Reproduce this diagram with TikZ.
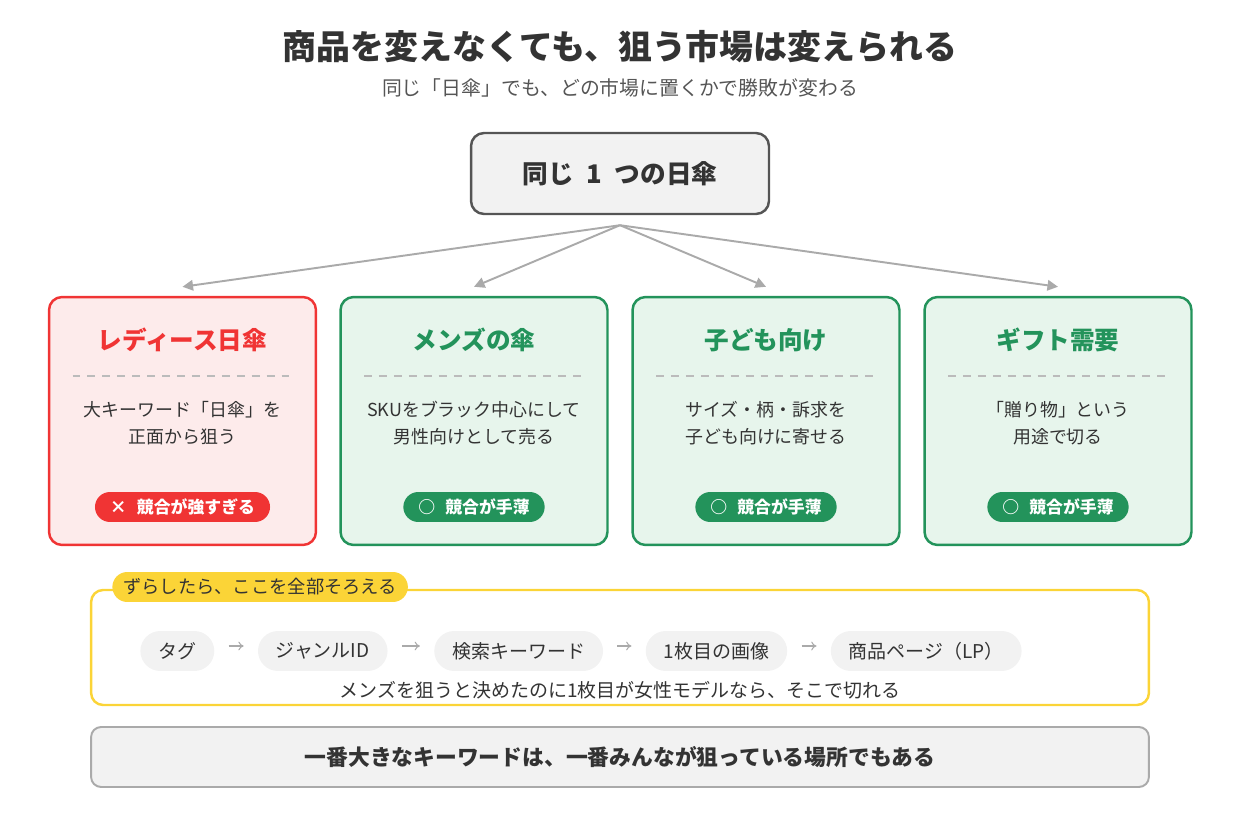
\documentclass[tikz,border=0pt]{standalone}
\usepackage{fontspec}
\setmainfont{Noto Sans CJK JP}
\usetikzlibrary{arrows.meta, calc, positioning}
\usepackage{xcolor}

\definecolor{ink}{HTML}{333333}
\definecolor{softink}{HTML}{555555}
\definecolor{redline}{HTML}{F03434}
\definecolor{redfill}{HTML}{FDEBEB}
\definecolor{greenline}{HTML}{23935B}
\definecolor{greenfill}{HTML}{E7F5EC}
\definecolor{paleGray}{HTML}{F2F2F2}
\definecolor{midGray}{HTML}{AAAAAA}
\definecolor{gold}{HTML}{FBD437}

\tikzset{
  title/.style={text=ink, font=\bfseries\fontsize{19.3}{23}\selectfont},
  subtitle/.style={text=softink, font=\fontsize{11.3}{14}\selectfont},
  source/.style={draw=softink, fill=paleGray, line width=1.4pt, rounded corners=0.26cm,
    minimum width=5.96cm, minimum height=1.62cm, text=ink, font=\bfseries\fontsize{14.6}{17}\selectfont},
  fan/.style={draw=midGray, line width=1.1pt, -{Triangle[length=6pt,width=6pt]}},
  card/.style={draw=#1line, fill=#1fill, line width=1.4pt, rounded corners=0.26cm,
    minimum width=5.34cm, minimum height=4.96cm},
  cardtitle/.style={text=#1line, font=\bfseries\fontsize{14}{17}\selectfont},
  divider/.style={draw=midGray!80, line width=0.9pt, dash pattern=on 4.5pt off 4pt},
  cardbody/.style={text=ink, align=center, font=\fontsize{10.2}{15.3}\selectfont},
  verdict/.style={fill=#1line, text=white, font=\bfseries\fontsize{9.6}{11}\selectfont,
    rounded corners=0.3cm, minimum height=0.6cm, inner xsep=0.3cm, inner ysep=0pt},
  frame/.style={draw=gold, line width=1.4pt, rounded corners=0.24cm,
    minimum width=21.16cm, minimum height=2.3cm},
  tagpill/.style={fill=gold, text=ink, font=\fontsize{10.4}{12}\selectfont,
    rounded corners=0.3cm, minimum height=0.6cm, inner xsep=0.22cm, inner ysep=0pt},
  flowpill/.style={fill=paleGray, text=ink, font=\fontsize{10.8}{13}\selectfont,
    rounded corners=0.4cm, minimum height=0.8cm, inner xsep=0.36cm, inner ysep=0pt},
  flowarrow/.style={draw=midGray, line width=0.6pt, -{To[length=3pt,width=5pt]},
    shorten <=0.28cm, shorten >=0.28cm},
  note/.style={text=ink, font=\fontsize{10.8}{13}\selectfont},
  summary/.style={draw=midGray, fill=paleGray, line width=1.1pt, rounded corners=0.2cm,
    minimum width=21.16cm, minimum height=1.2cm, text=ink, font=\bfseries\fontsize{12.4}{15}\selectfont}
}

\begin{document}
\begin{tikzpicture}[x=0.02cm, y=-0.02cm]
  \useasboundingbox (0,0) rectangle (1240,820);

  % heading
  \node[title] (title) at (620,47) {商品を変えなくても、狙う市場は変えられる};
  \node[subtitle] (subtitle) at (620,88) {同じ「日傘」でも、どの市場に置くかで勝敗が変わる};

  % the one product
  \node[source] (src) at (620,173.5) {同じ\hspace{0.5em}1\hspace{0.5em}つの日傘};
  \coordinate (hub) at ($(src.south)+(0,10)$);

  % four markets
  \foreach \cx/\tone/\name/\head/\body/\mark in {
    182.5/red/lady/{レディース日傘}/{大キーワード「日傘」を\\正面から狙う}/{×\hspace{0.6em}競合が強すぎる},
    474/green/mens/{メンズの傘}/{SKUをブラック中心にして\\男性向けとして売る}/{○\hspace{0.6em}競合が手薄},
    766/green/kids/{子ども向け}/{サイズ・柄・訴求を\\子ども向けに寄せる}/{○\hspace{0.6em}競合が手薄},
    1058/green/gift/{ギフト需要}/{「贈り物」という\\用途で切る}/{○\hspace{0.6em}競合が手薄}} {
    \node[card=\tone] (\name) at (\cx,421) {};
    \node[cardtitle=\tone] (\name-head) at (\cx,340) {\head};
    \draw[divider] (\cx-110,376) -- (\cx+110,376);
    \node[cardbody] (\name-body) at (\cx,423) {\body};
    \node[verdict=\tone] (\name-mark) at (\cx,507) {\mark};
    \draw[fan] (hub) -- ([yshift=0.18cm]\name.north);
  }

  % what has to line up
  \node[frame] (frame) at (620,647.5) {};
  \node[tagpill, anchor=west] (label) at (112,587) {ずらしたら、ここを全部そろえる};

  \node[flowpill, anchor=west] (tag) at (140,651) {タグ};
  \node[flowpill, right=0.86cm of tag] (genre) {ジャンルID};
  \node[flowpill, right=0.92cm of genre] (kw) {検索キーワード};
  \node[flowpill, right=0.84cm of kw] (img) {1枚目の画像};
  \node[flowpill, right=0.86cm of img] (lp) {商品ページ（LP）};
  \foreach \a/\b in {tag/genre, genre/kw, kw/img, img/lp}
    \draw[flowarrow] ([yshift=0.1cm]\a.east) -- ([yshift=0.1cm]\b.west);

  \node[note] (warn) at (620,690) {メンズを狙うと決めたのに1枚目が女性モデルなら、そこで切れる};

  % takeaway
  \node[summary] (summary) at (620,757) {一番大きなキーワードは、一番みんなが狙っている場所でもある};
\end{tikzpicture}
\end{document}
